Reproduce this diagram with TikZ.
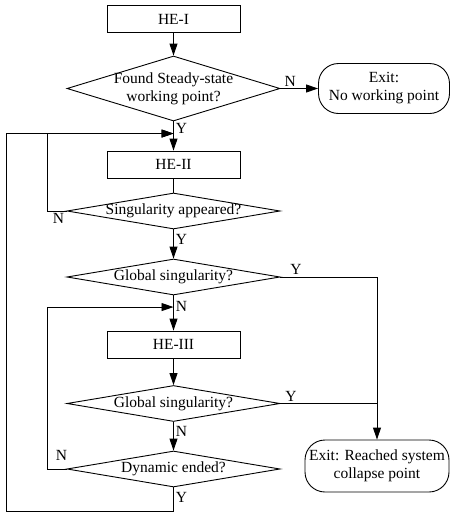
\documentclass[tikz,border=0pt]{standalone}
\usepackage{fontspec}
\setmainfont{Liberation Serif}
\usetikzlibrary{shapes.geometric,positioning,arrows.meta}

\begin{document}
\begin{tikzpicture}[->,node distance=2cm,on grid,auto,line width=0.9pt,
      >={Triangle[length=12pt,width=8pt]},
      font=\fontsize{15.5}{18}\selectfont,
      proc/.style={draw,rectangle,minimum width=133pt,minimum height=27pt,inner sep=0pt},
      decide/.style={draw,diamond,minimum width=213pt,minimum height=36pt,inner sep=0pt},
      quit/.style={draw,rectangle,rounded corners=20pt,minimum width=131pt,
        minimum height=50pt,inner sep=0pt,align=center},
      lbl/.style={inner sep=2pt}]
  \useasboundingbox (0,0) rectangle (450pt,-512pt);
  \node[proc] (he1) at (173.5pt,-19pt) {HE-I};
  \node[decide,minimum height=65pt] (d1) [below=69.5pt of he1]
    {\makebox[0pt]{\begin{tabular}{@{}c@{}}Found Steady-state\\working point?\end{tabular}}};
  \node[quit] (exit1) [right=210.5pt of d1] {Exit:\\No working point};
  \node[proc] (he2) [below=76pt of d1] {HE-II};
  \node[decide] (d2) [below=46.5pt of he2] {\makebox[0pt]{Singularity appeared?}};
  \node[decide] (d3) [below=66pt of d2] {\makebox[0pt]{Global singularity?}};
  \node[proc] (he3) [below=67.5pt of d3] {HE-III};
  \node[decide] (d4) [below=59pt of he3] {\makebox[0pt]{Global singularity?}};
  \node[decide] (d5) [below=65.5pt of d4] {\makebox[0pt]{Dynamic ended?}};
  \node[quit,minimum width=144pt,minimum height=52pt] (exit2) [right=203.5pt of d5,yshift=3pt]
    {Exit: Reached system\\collapse point};
  \coordinate[above=17pt of he2.north] (j1);
  \coordinate[above=23.5pt of he3.north] (j2);
  \draw (he1) -- (d1);
  \draw (d1) -- node[lbl,pos=0.26,above] {N} (exit1);
  \draw (d1) -- node[lbl,pos=0.24,right] {Y} (he2);
  \draw[-] (he2) -- (d2);
  \draw (d2.west) node[lbl,below left] {N} -- ++(-19pt,0) |- (j1);
  \draw (d2) -- node[lbl,pos=0.35,right] {Y} (d3);
  \draw (d3.east) -- node[lbl,pos=0.16,above] {Y} (d3.east -| exit2.north) -- (exit2.north);
  \draw (d3) -- node[lbl,pos=0.32,right] {N} (he3);
  \draw (he3) -- (d4);
  \draw[-] (d4.east) -- node[lbl,pos=0.11,above] {Y} (d4.east -| exit2.north);
  \draw (d4) -- node[lbl,pos=0.32,right] {N} (d5);
  \draw (d5.west) node[lbl,anchor=south east,xshift=3pt,yshift=6pt] {N} -- ++(-19pt,0) |- (j2);
  \draw (d5.south) -- node[lbl,pos=0.4,right] {Y} ++(0,-24pt) -- ++(-167.5pt,0) |- (j1);
\end{tikzpicture}
\end{document}
